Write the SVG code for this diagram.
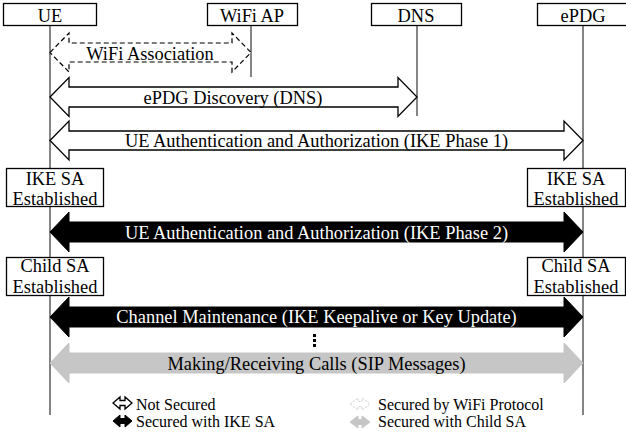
<svg xmlns="http://www.w3.org/2000/svg" width="626" height="440" viewBox="0 0 626 440">
<style>
.bg{fill:#fff}
.life{stroke:#505050;stroke-width:1.4;fill:none}
.box{fill:#fff;stroke:#000;stroke-width:1.3}
.t{font-family:"Liberation Serif","Times New Roman",serif;font-size:18.4px;fill:#000;text-anchor:middle}
.tw{fill:#fff}
.lg{font-family:"Liberation Serif","Times New Roman",serif;font-size:16px;fill:#000}
.open{fill:#fff;stroke:#000;stroke-width:1.3;stroke-linejoin:miter}
.dash{fill:#fff;stroke:#000;stroke-width:1.2;stroke-dasharray:5 3}
.blk{fill:#000;stroke:#000;stroke-width:1}
.gry{fill:#c6c6c6;stroke:#c6c6c6;stroke-width:1}
.ldash{fill:#fff;stroke:#d0d0d0;stroke-width:1;stroke-dasharray:2 1.5}
</style>
<rect class="bg" x="0" y="0" width="626" height="440"/>
<g id="lifelines">
<line class="life" x1="50" y1="25" x2="50" y2="415"/>
<line class="life" x1="251" y1="25" x2="251" y2="77"/>
<line class="life" x1="417" y1="25" x2="417" y2="116"/>
<line class="life" x1="583" y1="25" x2="583" y2="415"/>
</g>
<g id="node-ue"><rect class="box" x="3.5" y="3.5" width="93" height="22"/><text class="t" x="50" y="22">UE</text></g>
<g id="node-wifiap"><rect class="box" x="207.5" y="3.5" width="90" height="22"/><text class="t" x="252" y="22">WiFi AP</text></g>
<g id="node-dns"><rect class="box" x="371.5" y="3.5" width="90" height="22"/><text class="t" x="416" y="22">DNS</text></g>
<g id="node-epdg"><rect class="box" x="537.5" y="3.5" width="92" height="22"/><text class="t" x="583" y="22">ePDG</text></g>
<g id="node-ue-ike"><rect class="box" x="6.5" y="168.5" width="97" height="38"/><text class="t" x="55" y="185">IKE SA</text><text class="t" x="55" y="205">Established</text></g>
<g id="node-epdg-ike"><rect class="box" x="527.5" y="168.5" width="98" height="38"/><text class="t" x="576" y="185">IKE SA</text><text class="t" x="576" y="205">Established</text></g>
<g id="node-ue-child"><rect class="box" x="6.5" y="257.5" width="97" height="38"/><text class="t" x="55" y="272">Child SA</text><text class="t" x="55" y="293">Established</text></g>
<g id="node-epdg-child"><rect class="box" x="527.5" y="257.5" width="98" height="38"/><text class="t" x="576" y="272">Child SA</text><text class="t" x="576" y="293">Established</text></g>
<g id="connectors">
<path class="dash" d="M50 52.5 L69 33 L69 43 L232 43 L232 33 L251 52.5 L232 72 L232 62 L69 62 L69 72 Z"/>
<text class="t" x="150" y="59.5">WiFi Association</text>
<path class="open" d="M50 97 L69 77.5 L69 87 L398 87 L398 77.5 L417 97 L398 116.5 L398 107 L69 107 L69 116.5 Z"/>
<text class="t" x="233" y="103.5">ePDG Discovery (DNS)</text>
<path class="open" d="M50 140.5 L69 121 L69 131 L564 131 L564 121 L583 140.5 L564 160 L564 150 L69 150 L69 160 Z"/>
<text class="t" x="316.5" y="147">UE Authentication and Authorization (IKE Phase 1)</text>
<path class="blk" d="M50 232 L69 212 L69 222 L564 222 L564 212 L583 232 L564 252 L564 242 L69 242 L69 252 Z"/>
<text class="t tw" x="316.5" y="238.5">UE Authentication and Authorization (IKE Phase 2)</text>
<path class="blk" d="M50 317 L69 297 L69 307 L564 307 L564 297 L583 317 L564 337 L564 327 L69 327 L69 337 Z"/>
<text class="t tw" x="316.5" y="323">Channel Maintenance (IKE Keepalive or Key Update)</text>
<rect x="313" y="334" width="3" height="3" fill="#000"/>
<rect x="313" y="339" width="3" height="3" fill="#000"/>
<rect x="313" y="344" width="3" height="3" fill="#000"/>
<path class="gry" d="M50 363 L69 343 L69 353 L564 353 L564 343 L583 363 L564 383 L564 373 L69 373 L69 383 Z"/>
<text class="t" x="316.5" y="370">Making/Receiving Calls (SIP Messages)</text>
</g>
<g id="legend">
<path class="open" stroke-width="1.1" d="M113 403 L120 397 L120 400.5 L125 400.5 L125 397 L132 403 L125 409 L125 405.5 L120 405.5 L120 409 Z"/>
<text class="lg" x="136" y="410">Not Secured</text>
<path class="blk" d="M113 421 L120 415 L120 418.5 L125 418.5 L125 415 L132 421 L125 427 L125 423.5 L120 423.5 L120 427 Z"/>
<text class="lg" x="136" y="427">Secured with IKE SA</text>
<path class="ldash" d="M350 404 L358 398 L358 401.5 L362 401.5 L362 398 L370 404 L362 410 L362 406.5 L358 406.5 L358 410 Z"/>
<text class="lg" x="378" y="410">Secured by WiFi Protocol</text>
<path class="gry" d="M350 422 L358 416 L358 419.5 L362 419.5 L362 416 L370 422 L362 428 L362 424.5 L358 424.5 L358 428 Z"/>
<text class="lg" x="378" y="427">Secured with Child SA</text>
</g>
</svg>
